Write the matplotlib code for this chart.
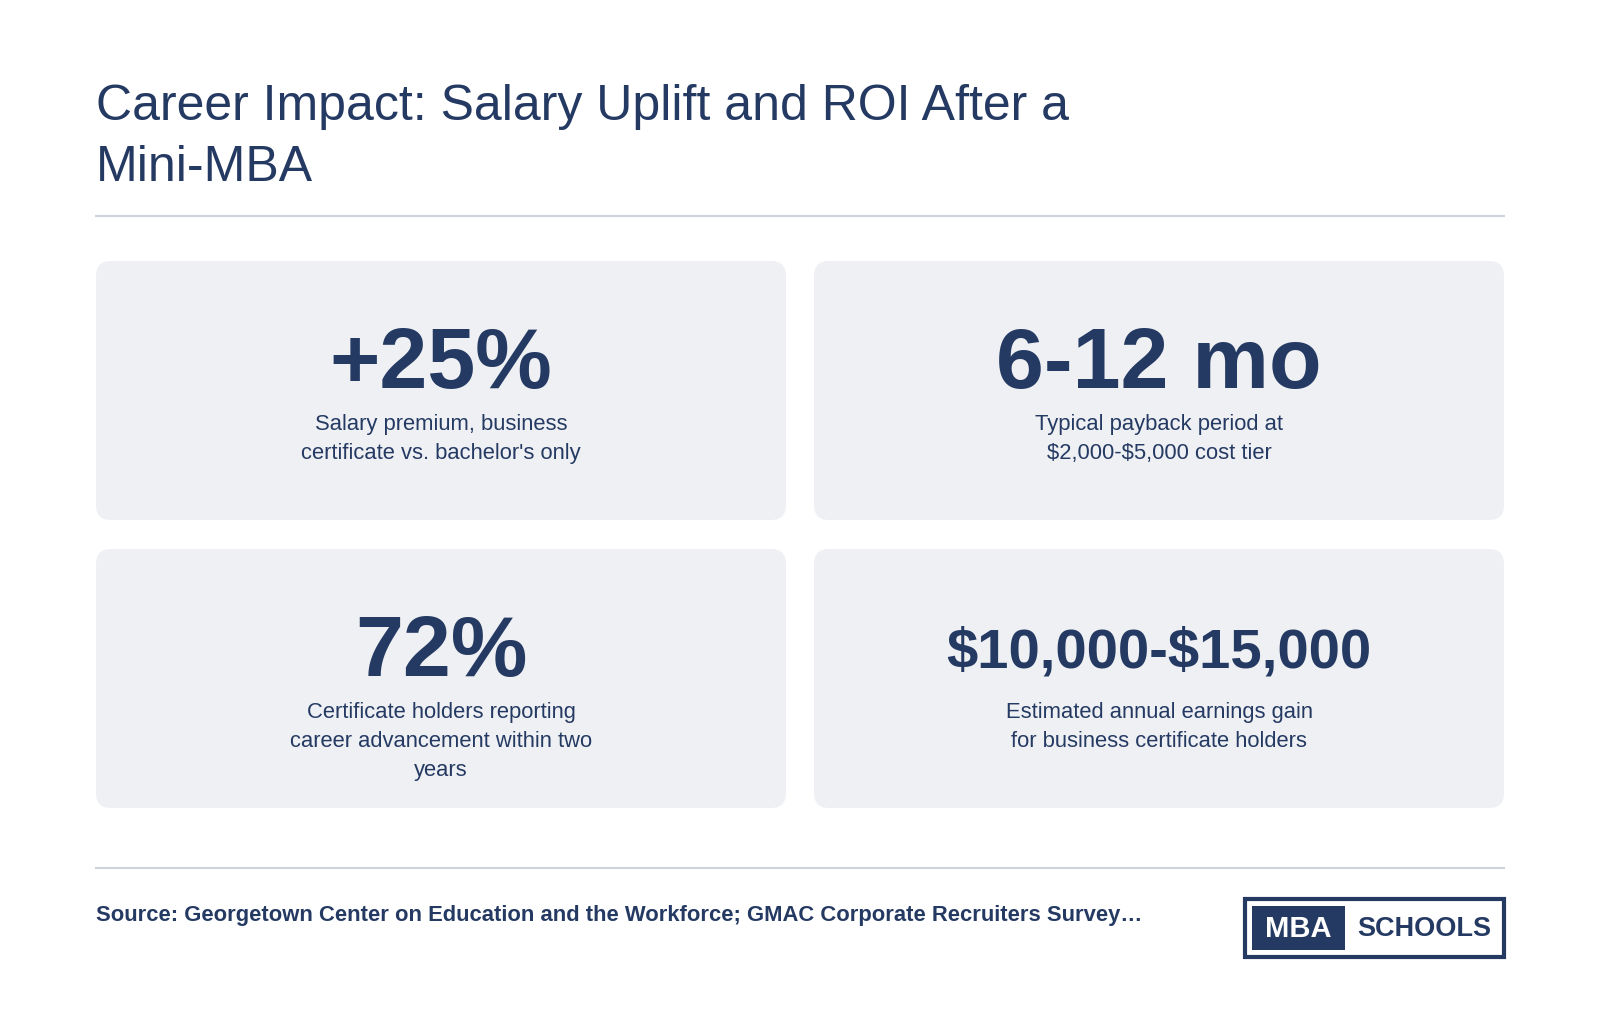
import matplotlib
matplotlib.use("Agg")
import matplotlib.pyplot as plt
from matplotlib.patches import FancyBboxPatch, Rectangle

title_lines = ["Career Impact: Salary Uplift and ROI After a", "Mini-MBA"]
stats = ["+25%", "6-12 mo", "72%", "$10,000-$15,000"]
descs = ["Salary premium, business\ncertificate vs. bachelor's only",
         "Typical payback period at\n$2,000-$5,000 cost tier",
         "Certificate holders reporting\ncareer advancement within two\nyears",
         "Estimated annual earnings gain\nfor business certificate holders"]
source = "Source: Georgetown Center on Education and the Workforce; GMAC Corporate Recruiters Survey…"

NAVY = "#253a63"
CARD = "#eef0f3"
plt.rcParams['font.family'] = ['Liberation Sans', 'DejaVu Sans']
plt.rcParams['text.parse_math'] = False

W, H = 1600, 1028
fig = plt.figure(figsize=(16, 10.28), dpi=100)
ax = fig.add_axes([0, 0, 1, 1])
ax.set_xlim(0, W); ax.set_ylim(H, 0); ax.axis("off")

ax.text(96, 107, title_lines[0], fontsize=36, color=NAVY, va="center")
ax.text(96, 168, title_lines[1], fontsize=36, color=NAVY, va="center")
ax.plot([96, 1504], [216, 216], color="#cfd3da", lw=1.5)

lefts = [96, 814]; tops = [261, 549]
cw, ch = 690, 259
for i, (s, d) in enumerate(zip(stats, descs)):
    x0 = lefts[i % 2]; y0 = tops[i // 2]
    ax.add_patch(FancyBboxPatch((x0, y0), cw, ch, boxstyle="round,pad=0,rounding_size=15",
                                fc=CARD, ec="none"))
    cx = x0 + cw / 2
    fs = 40.5 if len(s) > 10 else 62
    ax.text(cx, y0 + 105, s, fontsize=fs, fontweight="bold", color=NAVY, ha="center", va="center")
    ax.text(cx, y0 + 153, d, fontsize=15.8, color=NAVY, ha="center", va="top", linespacing=1.5)

ax.plot([96, 1504], [868, 868], color="#cfd3da", lw=1.5)
ax.text(96, 916, source, fontsize=15.8, fontweight="bold", color=NAVY, va="center")

# logo
ax.add_patch(Rectangle((1245, 899), 259, 58, fc="white", ec=NAVY, lw=3))
ax.add_patch(Rectangle((1252, 906), 93, 44, fc=NAVY, ec="none"))
ax.text(1298, 929, "MBA", fontsize=21, fontweight="bold", color="white", ha="center", va="center")
ax.text(1424, 929, "SCHOOLS", fontsize=19.5, fontweight="bold", color=NAVY, ha="center", va="center")

fig.savefig("out.png", dpi=100, facecolor="white")
